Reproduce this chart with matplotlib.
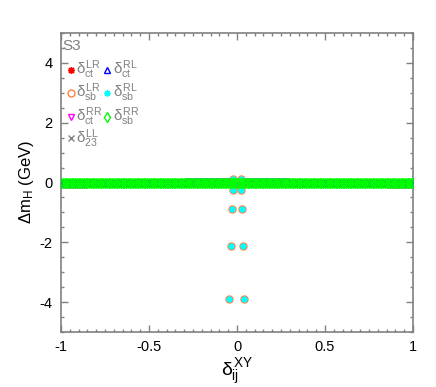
import numpy as np
import matplotlib
matplotlib.use("Agg")
import matplotlib.pyplot as plt
from matplotlib.ticker import MultipleLocator

plt.rcParams['font.family'] = ['Liberation Sans', 'DejaVu Sans']
plt.rcParams['mathtext.fontset'] = 'custom'
plt.rcParams['mathtext.rm'] = 'Liberation Sans'
plt.rcParams['mathtext.it'] = 'Liberation Sans'
plt.rcParams['mathtext.bf'] = 'Liberation Sans:bold'
plt.rcParams['axes.unicode_minus'] = False

# scan grid of delta_ij^XY (all points sit on the zero band)
band_x = np.round(np.arange(-1.0, 1.0001, 0.01), 2)
dm_band = np.zeros(len(band_x))
# RL_ct sits a little above zero in the middle of the scan
dm_ct_RL = np.where(np.abs(band_x) < 0.3, 0.05, 0.0)
dm_ct_RR = np.where(np.abs(band_x) > 0.85, -0.09, 0.0)

# sb LR / RL points that leave the band
sb_x = [-0.045, -0.036, -0.030, -0.025, -0.025, 0.020, 0.020, 0.027, 0.032, 0.041]
sb_dm = [-3.88, -2.12, -0.90, -0.25, 0.12, 0.12, -0.25, -0.90, -2.12, -3.88]

gray = '#808080'
# label, marker, colour, size, x data, y data
series = [
    (r'$\delta^{LR}_{ct}$', (8, 2, 0), '#ff0000', 5, band_x, dm_band),
    (r'$\delta^{LR}_{sb}$', 'o', '#ff7f40', 5, sb_x, sb_dm),
    (r'$\delta^{RR}_{ct}$', 'v', '#ff00ff', 5, band_x, dm_ct_RR),
    (r'$\delta^{LL}_{23}$', 'x', gray, 5, band_x, dm_band),
    (r'$\delta^{RL}_{ct}$', '^', '#0000ff', 5, band_x, dm_ct_RL),
    (r'$\delta^{RL}_{sb}$', (8, 2, 0), '#00ffff', 4.5, sb_x, sb_dm),
    (r'$\delta^{RR}_{sb}$', 'd', '#00ff00', 5, band_x, dm_band),
]

fig = plt.figure(figsize=(4.36, 3.87), dpi=100)
ax = fig.add_axes([61/436, 1-332/387, 352/436, 299/387])

# draw order: band first, sb points, green band on top
order = [0, 3, 2, 4, 1, 5, 6]
for z, i in enumerate(order):
    lab, mk, col, ms, xx, yy = series[i]
    filled = mk in ('o', 'v', '^', 'd')
    ax.plot(xx, yy, ls='none', marker=mk, ms=ms,
            mfc='none' if filled else col, mec=col, mew=1.0, zorder=3 + z)

ax.set_xlim(-1, 1)
ax.set_ylim(-5, 5)
ax.xaxis.set_minor_locator(MultipleLocator(0.05))
ax.yaxis.set_minor_locator(MultipleLocator(0.5))
ax.set_xticks([-1, -0.5, 0, 0.5, 1])
ax.set_xticklabels(['-1', '-0.5', '0', '0.5', '1'])
ax.set_yticks([-4, -2, 0, 2, 4])
ax.set_yticklabels(['-4', '-2', '0', '2', '4'])
ax.tick_params(which='both', direction='in', top=True, right=True, color=gray,
               labelsize=10.5, pad=6)
ax.tick_params(which='major', length=5, width=1)
ax.tick_params(which='minor', length=2.5, width=1)
for sp in ax.spines.values():
    sp.set_color(gray)
    sp.set_linewidth(1.2)

ax.set_ylabel(r'$\Delta$m$_\mathrm{H}$ (GeV)', fontsize=12, labelpad=3)
ax.set_xlabel(r'$\delta^{XY}_{ij}$', fontsize=14, labelpad=2)

# hand made legend
ax.text(0.004, 0.958, 'S3', transform=ax.transAxes, color=gray, fontsize=11,
        fontstyle='normal', ha='left', va='center')
rows_y = [0.876, 0.799, 0.719, 0.648]
cols = [(0.028, 0.044), (0.131, 0.147)]
for k, (lab, mk, col, ms, xx, yy) in enumerate(series):
    c = 0 if k < 4 else 1
    r = k if k < 4 else k - 4
    filled = mk in ('o', 'v', '^', 'd')
    ax.plot([cols[c][0]], [rows_y[r]], transform=ax.transAxes, ls='none',
            marker=mk, ms=ms, mfc='none' if filled else col, mec=col, mew=1.0,
            clip_on=False, zorder=20)
    ax.text(cols[c][1], rows_y[r], lab, transform=ax.transAxes, color=gray,
            fontsize=11, ha='left', va='center')

fig.savefig('out.png', dpi=100)
